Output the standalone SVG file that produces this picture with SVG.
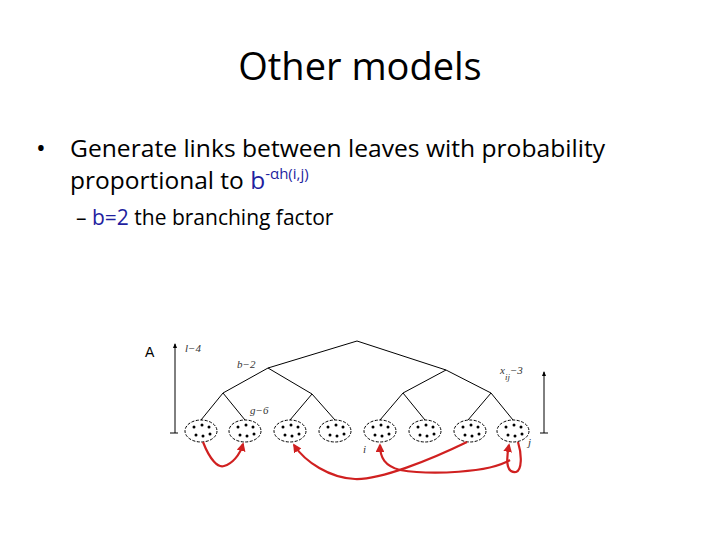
<svg xmlns="http://www.w3.org/2000/svg" width="720" height="540" viewBox="0 0 720 540">
<style>
.t{font-family:"Open Sans","Liberation Sans",sans-serif;fill:#000}
.b{fill:#1f1f9f}
.e{fill:#fff;stroke:#000;stroke-width:1;stroke-dasharray:3,1.5}
.l{stroke:#000;stroke-width:1;fill:none}
.r{stroke:#d02020;stroke-width:2.2;fill:none;marker-end:url(#ah)}
.m{font-family:"Liberation Serif",serif;font-style:italic;font-size:11px;fill:#333}
</style>
<defs>
<marker id="ah" viewBox="0 0 10 10" refX="8" refY="5" markerWidth="4" markerHeight="4" orient="auto"><path d="M0,0L10,5L0,10z" fill="#d02020"/></marker>
<marker id="bk" viewBox="0 0 10 10" refX="8" refY="5" markerWidth="5" markerHeight="6" orient="auto"><path d="M0,1L10,5L0,9z" fill="#000"/></marker>
</defs>
<rect width="720" height="540" fill="#fff"/>
<text class="t" x="360" y="80" font-size="38" text-anchor="middle">Other models</text>
<text class="t" x="36" y="157" font-size="26">•</text>
<text class="t" x="70" y="157" font-size="24.5" textLength="535" lengthAdjust="spacingAndGlyphs">Generate links between leaves with probability</text>
<text class="t" x="70" y="189" font-size="24.5">proportional to <tspan class="b">b</tspan><tspan class="b" font-size="15" dy="-10">-αh(i,j)</tspan></text>
<text class="t" x="76" y="225" font-size="21">– <tspan class="b">b=2</tspan> the branching factor</text>
<g id="tree" class="l">
<path d="M268,368L357,341L446,370"/>
<path d="M223,393L268,368L312,394M403,393L446,370L491,393"/>
<path d="M201,420L223,393L245,420M290,420L312,394L335,420M380,420L403,393L425,420M468,420L491,393L513,420"/>
</g>
<g id="scale">
<line class="l" x1="175" y1="433" x2="175" y2="344" stroke-width="1.5" marker-end="url(#bk)"/>
<line class="l" x1="170" y1="433" x2="178" y2="433"/>
<line class="l" x1="544" y1="433" x2="544" y2="372" marker-end="url(#bk)"/>
<line class="l" x1="540" y1="433" x2="548" y2="433"/>
<text x="145" y="357" font-family="Liberation Sans,sans-serif" font-size="14">A</text>
<text class="m" x="185" y="352">l−4</text>
<text class="m" x="237" y="368">b−2</text>
<text class="m" x="250" y="414" font-size="13">g−6</text>
<text class="m" x="500" y="374">x<tspan font-size="9" dy="6">ij</tspan><tspan dy="-6">−3</tspan></text>
<text class="m" x="363" y="453">i</text>
<text class="m" x="528" y="446">j</text>
</g>
<g id="leaves">
<ellipse class="e" cx="201" cy="431" rx="16" ry="11"/>
<ellipse class="e" cx="245" cy="431" rx="16" ry="11"/>
<ellipse class="e" cx="290" cy="431" rx="16" ry="11"/>
<ellipse class="e" cx="335" cy="431" rx="16" ry="11"/>
<ellipse class="e" cx="380" cy="431" rx="16" ry="11"/>
<ellipse class="e" cx="425" cy="431" rx="16" ry="11"/>
<ellipse class="e" cx="470" cy="431" rx="16" ry="11"/>
<ellipse class="e" cx="513" cy="431" rx="16" ry="11"/>
<g fill="#000">
<circle cx="194" cy="427" r="1.5"/><circle cx="202" cy="425" r="1.5"/><circle cx="209" cy="427" r="1.5"/><circle cx="196" cy="435" r="1.5"/><circle cx="203" cy="436" r="1.5"/><circle cx="210" cy="434" r="1.5"/>
<circle cx="238" cy="427" r="1.5"/><circle cx="246" cy="425" r="1.5"/><circle cx="253" cy="427" r="1.5"/><circle cx="240" cy="435" r="1.5"/><circle cx="247" cy="436" r="1.5"/><circle cx="254" cy="434" r="1.5"/>
<circle cx="283" cy="427" r="1.5"/><circle cx="291" cy="425" r="1.5"/><circle cx="298" cy="427" r="1.5"/><circle cx="285" cy="435" r="1.5"/><circle cx="292" cy="436" r="1.5"/><circle cx="299" cy="434" r="1.5"/>
<circle cx="328" cy="427" r="1.5"/><circle cx="336" cy="425" r="1.5"/><circle cx="343" cy="427" r="1.5"/><circle cx="330" cy="435" r="1.5"/><circle cx="337" cy="436" r="1.5"/><circle cx="344" cy="434" r="1.5"/>
<circle cx="373" cy="427" r="1.5"/><circle cx="381" cy="425" r="1.5"/><circle cx="388" cy="427" r="1.5"/><circle cx="375" cy="435" r="1.5"/><circle cx="382" cy="436" r="1.5"/><circle cx="389" cy="434" r="1.5"/>
<circle cx="418" cy="427" r="1.5"/><circle cx="426" cy="425" r="1.5"/><circle cx="433" cy="427" r="1.5"/><circle cx="420" cy="435" r="1.5"/><circle cx="427" cy="436" r="1.5"/><circle cx="434" cy="434" r="1.5"/>
<circle cx="463" cy="427" r="1.5"/><circle cx="471" cy="425" r="1.5"/><circle cx="478" cy="427" r="1.5"/><circle cx="465" cy="435" r="1.5"/><circle cx="472" cy="436" r="1.5"/><circle cx="479" cy="434" r="1.5"/>
<circle cx="506" cy="427" r="1.5"/><circle cx="514" cy="425" r="1.5"/><circle cx="521" cy="427" r="1.5"/><circle cx="508" cy="435" r="1.5"/><circle cx="515" cy="436" r="1.5"/><circle cx="522" cy="434" r="1.5"/>
</g>
</g>
<g id="connectors">
<path class="r" d="M203,442C210,460 218,468 224,466C232,464 240,455 243,444"/>
<path class="r" d="M467,442C430,460 380,480 355,479C330,478 305,462 294,445"/>
<path class="r" d="M510,460C490,473 430,475 400,470C385,466 380,458 380,445"/>
<path class="r" d="M518,442C522,455 522,470 516,472C508,473 505,465 509,445"/>
</g>
</svg>
